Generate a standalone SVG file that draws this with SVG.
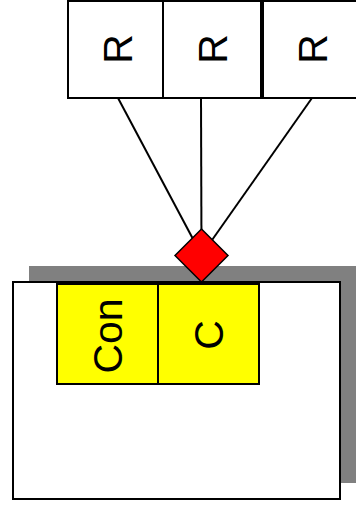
<svg xmlns="http://www.w3.org/2000/svg" width="356" height="507" viewBox="0 0 356 507">
<style>
.box{fill:#fff;stroke:#000;stroke-width:2}
.ybox{fill:#ffff00;stroke:#000;stroke-width:2}
.lbl{font-family:"Liberation Sans",Arial,sans-serif;font-size:41px;text-anchor:middle;fill:#000}
.conn{stroke:#000;stroke-width:2;fill:none}
</style>
<rect width="356" height="507" fill="#fff"/>
<g id="container">
<rect x="29" y="266" width="330" height="217" fill="#808080"/>
<rect class="box" x="13" y="282" width="327" height="217"/>
</g>
<g id="con">
<rect class="ybox" x="57" y="284" width="101" height="100"/>
<text class="lbl" transform="translate(121.5,336) rotate(-90)">Con</text>
</g>
<g id="c">
<rect class="ybox" x="158" y="284" width="101" height="100"/>
<text class="lbl" transform="translate(222.5,335) rotate(-90)">C</text>
</g>
<g id="r1">
<rect class="box" x="68" y="1" width="95" height="97"/>
<text class="lbl" transform="translate(132,49) rotate(-90)">R</text>
</g>
<g id="r2">
<rect class="box" x="163" y="1" width="98" height="97"/>
<text class="lbl" transform="translate(227,49) rotate(-90)">R</text>
</g>
<g id="r3">
<rect class="box" x="263" y="1" width="100" height="97"/>
<text class="lbl" transform="translate(327,49) rotate(-90)">R</text>
</g>
<g id="connectors">
<line class="conn" x1="118" y1="98" x2="201.5" y2="255"/>
<line class="conn" x1="201" y1="98" x2="201.5" y2="255"/>
<line class="conn" x1="312" y1="98" x2="201.5" y2="255"/>
</g>
<g id="diamond">
<polygon points="201.5,229 228,255.5 201.5,282 175,255.5" fill="#ff0000" stroke="#000" stroke-width="1.5"/>
</g>
</svg>
